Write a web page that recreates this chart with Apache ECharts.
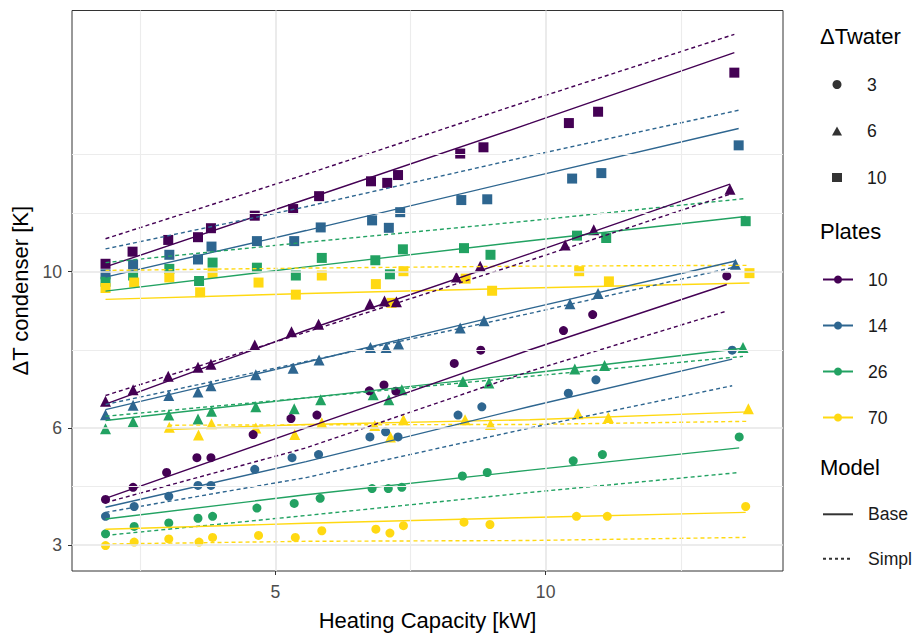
<!DOCTYPE html>
<html><head><meta charset="utf-8">
<script src="https://cdn.jsdelivr.net/npm/echarts@6/dist/echarts.min.js"></script>
<style>html,body{margin:0;padding:0;background:#fff}#c{width:921px;height:636px}</style>
</head><body><div id="c"></div>
<script>
// ---------- categories ----------
const plates = ['10', '14', '26', '70'];
const dTwater = ['3', '6', '10'];
const models = ['Base', 'Simpl'];
const xTicks = [5, 10];
const yTicks = [3, 6, 10];
const xMinorGrid = [2.5, 7.5, 12.5];
const yMinorGrid = [4.5, 8, 11.5, 13];

// ---------- measured points: ΔTwater = 10 ----------
const hc_P10_w10 = [1.86, 2.36, 3.02, 3.57, 3.81, 4.62, 5.33, 5.81, 6.77, 7.07, 7.27, 8.42, 8.85, 10.43, 10.97, 13.49];
const dt_P10_w10 = [10.20, 10.51, 10.81, 10.88, 11.11, 11.43, 11.60, 11.93, 12.31, 12.27, 12.47, 13.02, 13.18, 13.80, 14.09, 15.09];
const hc_P14_w10 = [1.86, 2.37, 3.04, 3.57, 3.82, 4.66, 5.35, 5.84, 6.79, 7.10, 7.31, 8.44, 8.92, 10.49, 11.03, 13.57];
const dt_P14_w10 = [9.93, 10.18, 10.43, 10.31, 10.64, 10.78, 10.78, 11.13, 11.31, 11.12, 11.52, 11.83, 11.85, 12.38, 12.52, 13.23];
const hc_P26_w10 = [1.86, 2.37, 3.04, 3.59, 3.84, 4.66, 5.38, 5.86, 6.85, 7.12, 7.36, 8.49, 8.98, 10.58, 11.12, 13.70];
const dt_P26_w10 = [9.74, 9.90, 10.07, 9.76, 10.23, 10.10, 9.90, 10.35, 10.29, 9.93, 10.57, 10.60, 10.43, 10.92, 10.86, 11.29];
const hc_P70_w10 = [1.86, 2.39, 3.04, 3.61, 3.84, 4.69, 5.38, 5.86, 6.86, 7.15, 7.37, 8.52, 9.01, 10.62, 11.17, 13.77];
const dt_P70_w10 = [9.58, 9.72, 9.85, 9.47, 9.96, 9.72, 9.41, 9.90, 9.68, 9.20, 10.01, 9.82, 9.51, 10.01, 9.75, 9.96];

// ---------- measured points: ΔTwater = 6 ----------
const hc_P10_w6 = [1.86, 2.37, 3.02, 3.57, 3.81, 4.62, 5.30, 5.80, 6.75, 7.02, 7.24, 8.35, 8.79, 10.36, 10.89, 13.41];
const dt_P10_w6 = [6.68, 6.98, 7.32, 7.55, 7.63, 8.12, 8.46, 8.65, 9.18, 9.25, 9.23, 9.86, 10.14, 10.68, 11.07, 12.11];
const hc_P14_w6 = [1.86, 2.37, 3.03, 3.57, 3.81, 4.64, 5.33, 5.81, 6.76, 7.05, 7.28, 8.42, 8.86, 10.45, 10.97, 13.51];
const dt_P14_w6 = [6.34, 6.58, 6.83, 6.92, 7.08, 7.36, 7.53, 7.74, 8.06, 8.06, 8.15, 8.56, 8.74, 9.18, 9.44, 10.19];
const hc_P26_w6 = [1.86, 2.37, 3.03, 3.57, 3.82, 4.64, 5.35, 5.84, 6.81, 7.10, 7.34, 8.47, 8.95, 10.54, 11.09, 13.65];
const dt_P26_w6 = [5.98, 6.16, 6.33, 6.23, 6.43, 6.54, 6.49, 6.72, 6.85, 6.72, 6.98, 7.19, 7.15, 7.51, 7.60, 8.06];
const hc_P70_w6 = [3.04, 3.58, 3.82, 4.64, 5.36, 5.86, 6.84, 7.13, 7.37, 8.51, 8.98, 10.60, 11.16, 13.75];
const dt_P70_w6 = [6.02, 5.82, 6.11, 6.00, 5.83, 6.13, 6.06, 5.77, 6.21, 6.21, 6.09, 6.36, 6.27, 6.49];

// ---------- measured points: ΔTwater = 3 ----------
const hc_P10_w3 = [1.86, 2.37, 2.99, 3.55, 3.81, 4.59, 5.29, 5.77, 6.74, 7.01, 7.23, 8.31, 8.80, 10.33, 10.87, 13.35];
const dt_P10_w3 = [4.17, 4.48, 4.86, 5.24, 5.24, 5.83, 6.24, 6.33, 6.95, 7.10, 6.94, 7.65, 7.99, 8.49, 8.90, 9.89];
const hc_P14_w3 = [1.86, 2.39, 3.03, 3.57, 3.81, 4.62, 5.31, 5.80, 6.75, 7.04, 7.27, 8.38, 8.82, 10.42, 10.93, 13.45];
const dt_P14_w3 = [3.74, 3.99, 4.25, 4.53, 4.53, 4.94, 5.24, 5.32, 5.77, 5.90, 5.77, 6.33, 6.54, 6.89, 7.23, 7.99];
const hc_P26_w3 = [1.86, 2.39, 3.03, 3.57, 3.84, 4.66, 5.35, 5.83, 6.79, 7.09, 7.34, 8.46, 8.92, 10.51, 11.05, 13.58];
const dt_P26_w3 = [3.29, 3.48, 3.57, 3.69, 3.74, 3.95, 4.07, 4.20, 4.45, 4.45, 4.48, 4.77, 4.86, 5.16, 5.32, 5.77];
const hc_P70_w3 = [1.86, 2.39, 3.03, 3.59, 3.84, 4.69, 5.37, 5.86, 6.86, 7.12, 7.37, 8.49, 8.97, 10.57, 11.14, 13.70];
const dt_P70_w3 = [2.99, 3.08, 3.16, 3.08, 3.20, 3.25, 3.20, 3.37, 3.41, 3.31, 3.50, 3.59, 3.53, 3.74, 3.74, 3.99];

// ---------- model curves (Base = solid, Simpl = dashed) ----------
const mx_P10_w10 = [1.86, 5.57, 9.71, 13.49];
const base_P10_w10 = [10.12, 11.85, 13.79, 15.60];
const simpl_P10_w10 = [10.84, 12.49, 14.38, 16.07];
const mx_P14_w10 = [1.86, 5.57, 9.71, 13.57];
const base_P14_w10 = [9.86, 11.05, 12.41, 13.66];
const simpl_P14_w10 = [10.58, 11.66, 12.96, 14.13];
const mx_P26_w10 = [1.86, 5.57, 9.71, 13.70];
const base_P26_w10 = [9.50, 10.12, 10.79, 11.41];
const simpl_P26_w10 = [10.23, 10.75, 11.30, 11.87];
const mx_P70_w10 = [1.86, 5.57, 9.71, 13.77];
const base_P70_w10 = [9.29, 9.44, 9.58, 9.71];
const simpl_P70_w10 = [10.03, 10.09, 10.14, 10.16];

const mx_P10_w6 = [1.86, 5.57, 9.71, 13.41];
const base_P10_w6 = [6.61, 8.50, 10.46, 12.24];
const simpl_P10_w6 = [6.83, 8.45, 10.29, 11.98];
const mx_P14_w6 = [1.86, 5.57, 9.71, 13.51];
const base_P14_w6 = [6.47, 7.68, 9.06, 10.27];
const simpl_P14_w6 = [6.60, 7.70, 8.93, 10.12];
const mx_P26_w6 = [1.86, 5.57, 9.71, 13.65];
const base_P26_w6 = [6.19, 6.77, 7.40, 8.04];
const simpl_P26_w6 = [6.30, 6.77, 7.32, 7.83];
const mx_P70_w6 = [3.02, 5.57, 9.71, 13.75];
const base_P70_w6 = [5.96, 6.09, 6.21, 6.41];
const simpl_P70_w6 = [6.07, 6.08, 6.09, 6.17];

const mx_P10_w3 = [1.86, 5.57, 9.71, 13.35];
const base_P10_w3 = [4.20, 6.00, 8.00, 9.67];
const simpl_P10_w3 = [4.09, 5.49, 7.45, 8.99];
const mx_P14_w3 = [1.86, 5.57, 9.71, 13.45];
const base_P14_w3 = [3.97, 5.14, 6.55, 7.76];
const simpl_P14_w3 = [3.84, 4.73, 6.00, 7.08];
const mx_P26_w3 = [1.86, 5.57, 9.71, 13.58];
const base_P26_w3 = [3.67, 4.29, 4.92, 5.49];
const simpl_P26_w3 = [3.25, 3.76, 4.35, 4.86];
const mx_P70_w3 = [1.86, 5.57, 9.71, 13.70];
const base_P70_w3 = [3.41, 3.56, 3.71, 3.84];
const simpl_P70_w3 = [3.03, 3.10, 3.12, 3.20];

// ---------- styling ----------
const plateColor = { '10': '#440154', '14': '#2E6690', '26': '#22A262', '70': '#FFD912' };
const shapeOf = { '3': 'circle', '6': 'triangle', '10': 'rect' };
const sizeOf = { '3': 9, '6': 11, '10': 10 };
const FONT = '"Liberation Sans", Arial, sans-serif';

const groups = [
  ['10', '10', hc_P10_w10, dt_P10_w10, mx_P10_w10, base_P10_w10, simpl_P10_w10],
  ['14', '10', hc_P14_w10, dt_P14_w10, mx_P14_w10, base_P14_w10, simpl_P14_w10],
  ['26', '10', hc_P26_w10, dt_P26_w10, mx_P26_w10, base_P26_w10, simpl_P26_w10],
  ['70', '10', hc_P70_w10, dt_P70_w10, mx_P70_w10, base_P70_w10, simpl_P70_w10],
  ['10', '6', hc_P10_w6, dt_P10_w6, mx_P10_w6, base_P10_w6, simpl_P10_w6],
  ['14', '6', hc_P14_w6, dt_P14_w6, mx_P14_w6, base_P14_w6, simpl_P14_w6],
  ['26', '6', hc_P26_w6, dt_P26_w6, mx_P26_w6, base_P26_w6, simpl_P26_w6],
  ['70', '6', hc_P70_w6, dt_P70_w6, mx_P70_w6, base_P70_w6, simpl_P70_w6],
  ['10', '3', hc_P10_w3, dt_P10_w3, mx_P10_w3, base_P10_w3, simpl_P10_w3],
  ['14', '3', hc_P14_w3, dt_P14_w3, mx_P14_w3, base_P14_w3, simpl_P14_w3],
  ['26', '3', hc_P26_w3, dt_P26_w3, mx_P26_w3, base_P26_w3, simpl_P26_w3],
  ['70', '3', hc_P70_w3, dt_P70_w3, mx_P70_w3, base_P70_w3, simpl_P70_w3]
];

const series = [];
// grid lines (drawn through the axes via markLine)
series.push({
  type: 'line', data: [], z: 1, silent: true,
  markLine: {
    silent: true, symbol: ['none', 'none'], label: { show: false }, animation: false,
    lineStyle: { color: '#e6e6e6', width: 1.6, type: 'solid' },
    emphasis: { disabled: true },
    data: xTicks.map(v => ({ xAxis: v })).concat(yTicks.map(v => ({ yAxis: v })))
  }
});
series.push({
  type: 'line', data: [], z: 1, silent: true,
  markLine: {
    silent: true, symbol: ['none', 'none'], label: { show: false }, animation: false,
    lineStyle: { color: '#ececec', width: 1.1, type: 'solid' },
    emphasis: { disabled: true },
    data: xMinorGrid.map(v => ({ xAxis: v })).concat(yMinorGrid.map(v => ({ yAxis: v })))
  }
});

groups.forEach(([p, w, hc, dt]) => {
  series.push({
    type: 'scatter', name: 'pts P' + p + ' w' + w, z: 3,
    data: hc.map((x, i) => [x, dt[i]]),
    symbol: shapeOf[w], symbolSize: sizeOf[w],
    itemStyle: { color: plateColor[p], opacity: 1 }
  });
});
groups.forEach(([p, w, hc, dt, mx, base, simpl]) => {
  series.push({
    type: 'line', name: 'base P' + p + ' w' + w, z: 4, silent: true,
    data: mx.map((x, i) => [x, base[i]]), symbol: 'none',
    lineStyle: { color: plateColor[p], width: 1.4, type: 'solid' }
  });
  series.push({
    type: 'line', name: 'simpl P' + p + ' w' + w, z: 4, silent: true,
    data: mx.map((x, i) => [x, simpl[i]]), symbol: 'none',
    lineStyle: { color: plateColor[p], width: 1.4, type: [4, 3] }
  });
});

// legend proxy series
dTwater.forEach(w => series.push({ type: 'scatter', name: 'w' + w, data: [], symbol: shapeOf[w], itemStyle: { color: '#000' } }));
plates.forEach(p => series.push({ type: 'line', name: 'p' + p, data: [], symbol: 'circle', symbolSize: 8,
  itemStyle: { color: plateColor[p] }, lineStyle: { color: plateColor[p], width: 2 } }));
series.push({ type: 'line', name: 'm' + models[0], data: [], symbol: 'none', itemStyle: { color: '#333' }, lineStyle: { color: '#333', width: 1.4, type: 'solid' } });
series.push({ type: 'line', name: 'm' + models[1], data: [], symbol: 'none', itemStyle: { color: '#333' }, lineStyle: { color: '#333', width: 1.2, type: [3, 3] } });

const legendText = { fontFamily: FONT, fontSize: 17.6, color: '#1a1a1a', padding: [0, 0, 0, 10] };
const legendCommon = { orient: 'vertical', left: 822, padding: 0, itemWidth: 30, selectedMode: false,
  formatter: n => n.slice(1), textStyle: legendText };

const option = {
  animation: false,
  backgroundColor: '#ffffff',
  grid: { left: 72, right: 138, top: 10.5, bottom: 62, show: true, borderColor: '#333333', borderWidth: 1, backgroundColor: 'transparent' },
  xAxis: {
    type: 'value', min: 1.24, max: 14.39,
    name: 'Heating Capacity [kW]', nameLocation: 'middle', nameGap: 38,
    nameTextStyle: { fontFamily: FONT, fontSize: 22, color: '#000' },
    axisLine: { show: false },
    axisTick: { show: true, length: 4, lineStyle: { color: '#333', width: 1 }, customValues: xTicks },
    axisLabel: { customValues: xTicks, fontFamily: FONT, fontSize: 17.6, color: '#4d4d4d', margin: 12 },
    splitLine: { show: false }
  },
  yAxis: {
    type: 'value', min: 2.34, max: 16.68,
    name: 'ΔT condenser [K]', nameLocation: 'middle', nameGap: 38, nameRotate: 90,
    nameTextStyle: { fontFamily: FONT, fontSize: 22, color: '#000' },
    axisLine: { show: false },
    axisTick: { show: true, length: 4, lineStyle: { color: '#333', width: 1 }, customValues: yTicks },
    axisLabel: { customValues: yTicks, fontFamily: FONT, fontSize: 17.6, color: '#4d4d4d', margin: 10 },
    splitLine: { show: false }
  },
  title: [
    { text: 'ΔTwater', left: 820, top: 25.7, padding: 0, textStyle: { fontFamily: FONT, fontSize: 22, fontWeight: 'normal', color: '#000', lineHeight: 22 } },
    { text: 'Plates', left: 820, top: 220.7, padding: 0, textStyle: { fontFamily: FONT, fontSize: 22, fontWeight: 'normal', color: '#000', lineHeight: 22 } },
    { text: 'Model', left: 820, top: 456.8, padding: 0, textStyle: { fontFamily: FONT, fontSize: 22, fontWeight: 'normal', color: '#000', lineHeight: 22 } }
  ],
  legend: [
    Object.assign({}, legendCommon, { left: 832, top: 75.5, itemWidth: 10, itemHeight: 9, itemGap: 28.5,
      textStyle: Object.assign({}, legendText, { lineHeight: 9, padding: [0, 0, 0, 20] }),
      data: dTwater.map(w => ({ name: 'w' + w, icon: shapeOf[w] })) }),
    Object.assign({}, legendCommon, { top: 270.5, itemHeight: 10, itemGap: 28,
      textStyle: Object.assign({}, legendText, { lineHeight: 10 }),
      data: plates.map(p => 'p' + p) }),
    Object.assign({}, legendCommon, { top: 505.3, itemHeight: 10, itemGap: 26.4,
      textStyle: Object.assign({}, legendText, { lineHeight: 10 }),
      data: models.map(m => ({ name: 'm' + m, itemStyle: { opacity: 0 } })) })
  ],
  series: series
};

const chart = echarts.init(document.getElementById('c'), null, { renderer: 'svg' });
chart.setOption(option);
</script>
</body></html>
